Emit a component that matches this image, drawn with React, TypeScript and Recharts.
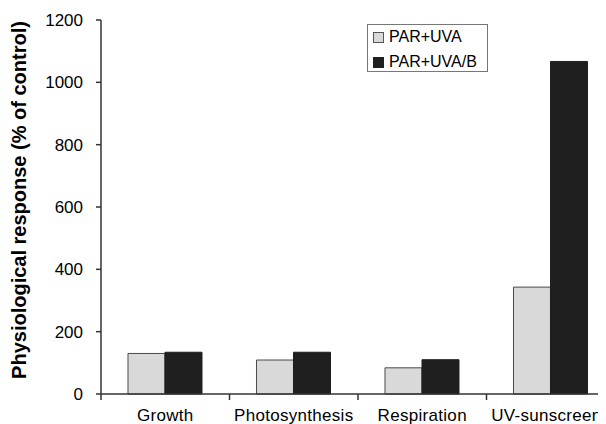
import { BarChart, Bar, XAxis, YAxis, Legend, Label } from 'recharts';

const categories = ['Growth', 'Photosynthesis', 'Respiration', 'UV-sunscreens'];
const parUva = [130, 109, 84, 343];
const parUvaB = [134, 134, 110, 1067];
const yTicks = [0, 200, 400, 600, 800, 1000, 1200];

const data = categories.map((name, i) => ({ name, uva: parUva[i], uvab: parUvaB[i] }));

const FONT = '"Liberation Sans", Arial, sans-serif';
const LIGHT = '#d9d9d9';
const DARK = '#1f1f1f';

const CategoryTick = (props: any) => {
  const { x, y, payload, width, visibleTicksCount } = props;
  const band = width && visibleTicksCount ? width / visibleTicksCount : (payload.offset ?? 0) * 2;
  const edge = x - band / 2;
  return (
    <g>
      <line x1={edge} x2={edge} y1={y} y2={y + 6} stroke="#333" strokeWidth={1.5} />
      <text
        x={x}
        y={y + 15}
        dy="0.71em"
        textAnchor="middle"
        fill="#000"
        fontSize={17}
        letterSpacing={0.3}
        fontFamily={FONT}
      >
        {payload.value}
      </text>
    </g>
  );
};

const renderLegend = () => (
  <div
    style={{
      border: '1px solid #777',
      background: '#fff',
      width: 121,
      height: 48,
      boxSizing: 'border-box',
      padding: '1px 0 0 5px',
      fontFamily: FONT,
      fontSize: 16,
      color: '#000',
    }}
  >
    {[
      { label: 'PAR+UVA', color: LIGHT, border: '#555' },
      { label: 'PAR+UVA/B', color: DARK, border: DARK },
    ].map((item, i) => (
      <div key={i} style={{ display: 'flex', alignItems: 'center', height: 22, marginTop: i ? 3 : 0 }}>
        <span
          style={{
            display: 'inline-block',
            width: 9,
            height: 9,
            background: item.color,
            border: `1px solid ${item.border}`,
            marginRight: 5,
          }}
        />
        <span>{item.label}</span>
      </div>
    ))}
  </div>
);

export default function App() {
  return (
    <div style={{ width: 598, height: 416, overflow: 'hidden' }}>
      <BarChart
        width={607}
        height={416}
        data={data}
        margin={{ top: 12, right: 0, bottom: 0, left: 0 }}
        barCategoryGap="21%"
        barGap={0}
      >
        <XAxis
          dataKey="name"
          height={30}
          tickSize={0}
          tickMargin={0}
          tickLine={false}
          axisLine={{ stroke: '#333', strokeWidth: 1.5 }}
          tick={<CategoryTick />}
          interval={0}
        />
        <YAxis
          width={93}
          domain={[0, 1200]}
          ticks={yTicks}
          tickSize={5}
          tickMargin={13}
          axisLine={{ stroke: '#333', strokeWidth: 1.5 }}
          tickLine={{ stroke: '#333', strokeWidth: 1.5 }}
          tick={{ fill: '#000', fontSize: 17, fontFamily: FONT }}
        >
          <Label
            content={({ viewBox }: any) => {
              const cx = viewBox.x + 18;
              const cy = viewBox.y + viewBox.height / 2 - 7;
              return (
                <text
                  x={cx}
                  y={cy}
                  transform={`rotate(-90 ${cx} ${cy})`}
                  textAnchor="middle"
                  fontSize={20}
                  fontWeight="bold"
                  fontFamily={FONT}
                  fill="#000"
                >
                  Physiological response (% of control)
                </text>
              );
            }}
          />
        </YAxis>
        <Legend
          layout="horizontal"
          verticalAlign="middle"
          align="center"
          content={renderLegend}
          wrapperStyle={{ position: 'absolute', left: 359, top: 16, width: 'auto', height: 'auto' }}
        />
        <Bar dataKey="uva" name="PAR+UVA" fill={LIGHT} stroke="#4a4a4a" strokeWidth={1} isAnimationActive={false} />
        <Bar dataKey="uvab" name="PAR+UVA/B" fill={DARK} stroke={DARK} strokeWidth={1} isAnimationActive={false} />
      </BarChart>
    </div>
  );
}
